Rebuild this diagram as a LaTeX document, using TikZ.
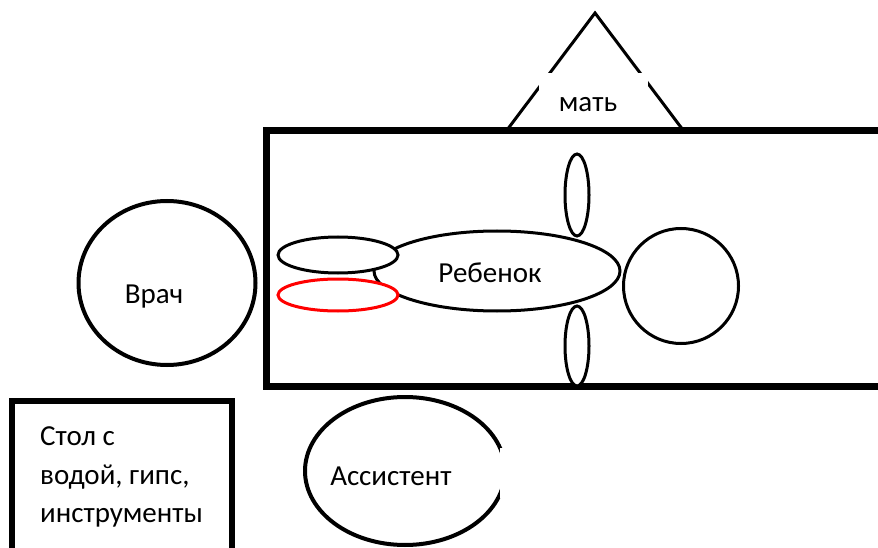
\documentclass[tikz,border=0pt]{standalone}
\usepackage{fontspec}
\setmainfont{Carlito}
\usetikzlibrary{shapes.geometric}
\begin{document}
\begin{tikzpicture}[x=1pt,y=-1pt,
  lbl/.style={font=\fontsize{29}{38}\selectfont, inner sep=0pt, anchor=base},
  part/.style={ellipse, draw, line width=3pt, fill=white, inner sep=0pt},
  person/.style={ellipse, draw, line width=4pt, fill=white, inner sep=0pt},
  gap/.style={fill=white, draw=none, inner sep=0pt, anchor=north west}
]
\clip (0,0) rectangle (878,548);
\fill[white] (0,0) rectangle (878,548);
% mother triangle
\coordinate (tl) at (507,130);
\coordinate (tt) at (595,13);
\coordinate (tr) at (683,130);
\draw[line width=3pt, line join=miter] (tl) -- (tt) -- (tr);
\node[gap, minimum width=109pt, minimum height=57pt] (mgap) at (539,73) {};
\node[lbl] (mat) at (588,112) {мать};
% bed
\draw[line width=7pt, line join=miter] (900,131) -- (266,131) -- (266,386) -- (900,386);
% child
\node[part, minimum width=246pt, minimum height=80pt] (body) at (497,271) {};
\node[part, minimum width=115pt, minimum height=115pt] (head) at (681,286) {};
\node[part, minimum width=24pt, minimum height=82pt] (armu) at (577,195) {};
\node[part, minimum width=24pt, minimum height=80pt] (armd) at (577,346) {};
\node[part, minimum width=120pt, minimum height=36pt] (legu) at (338,255) {};
\node[part, draw=red, minimum width=120pt, minimum height=32pt] (legd) at (338,295) {};
\node[lbl] (reb) at (490,282) {Ребенок};
% doctor
\node[person, minimum width=177pt, minimum height=164pt] (doc) at (167,283) {};
\node[lbl] (vrach) at (154,303) {Врач};
% assistant
\node[person, minimum width=200pt, minimum height=148pt] (asst) at (405,471) {};
\node[gap, minimum width=12pt, minimum height=50pt] (agap) at (500,448) {};
\node[lbl] (asstt) at (391,485) {Ассистент};
% table
\draw[line width=6pt, line join=miter] (12,560) -- (12,401) -- (232,401) -- (232,560);
\node[lbl, anchor=base west] (t1) at (40,445) {Стол с};
\node[lbl, anchor=base west] (t2) at (40,484) {водой, гипс,};
\node[lbl, anchor=base west] (t3) at (40,522) {инструменты};
\end{tikzpicture}
\end{document}
